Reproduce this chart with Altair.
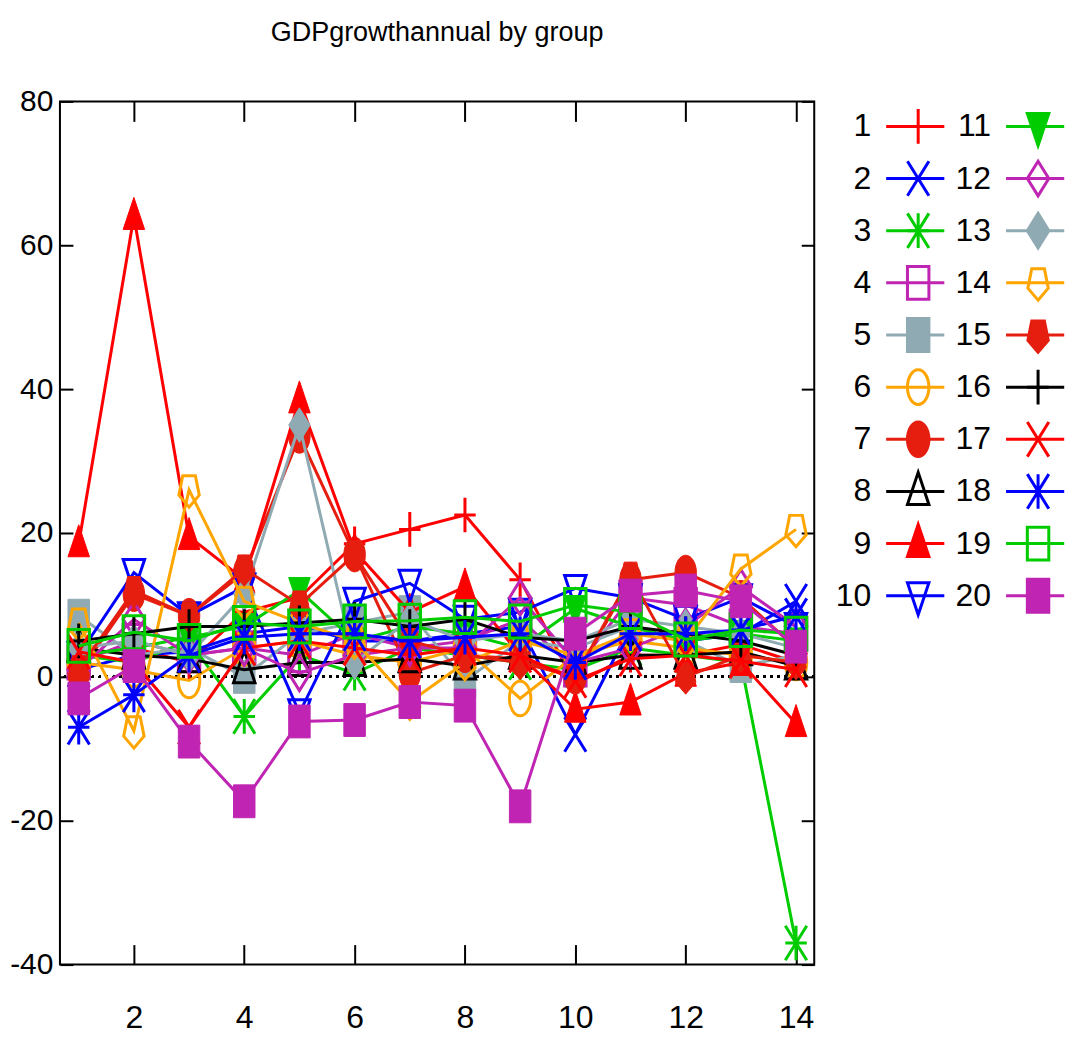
import altair as alt
import pandas as pd

# ---------------- data ----------------
x_vals = list(range(1, 15))
series_names = [str(i) for i in range(1, 21)]

s1 = [3, 4, 2, 9, 11, 18.5, 20.5, 22.5, 13.5, -1, 3, 3, 4.5, 2]
s2 = [1, 3, 3.5, 6, 7, 5, 5, 6, 7, -8, 7, 5, 6, 10.5]
s3 = [3, 2, 5, -5.5, 3, 0.5, 4, 3, 2, 1, 4, 3, 2, -37]
s4 = [2, 5, 3, 4, 3, 6, 4, 5, 8, 1, 11, 10, 7, 6]
s5 = [8.5, 3, 4, 0, 6, 7.5, 9, -0.5, 5, 4, 7, 5, 1.5, 3]
s6 = [2, 1, -0.5, 4, 5, 3, 2, 4, -3, 3, 5, 4, 3, 2]
s7 = [0.5, 11.5, 8.5, 14.5, 33.5, 17, 0.5, 3, 2.5, 0, 13.5, 14.5, 11, 4]
s8 = [4, 3, 2.5, 1, 2, 2, 2.5, 1.5, 3, 2, 3, 3, 3.5, 1.5]
s9 = [18.5, 64, 19.5, 13.5, 38.5, 17.5, 9, 12.5, 3, -4.5, -3.5, 0.5, 2, -6.5]
s10 = [3, 14.5, 8.5, 12.5, -5, 10.5, 13, 8, 9, 12.3, 11, 8, 11, 7]
s11 = [3, 4, 5.5, 7, 12, 5, 7, 6, 4, 9.5, 7, 5, 6, 5]
s12 = [1, 8, 3, 4, 0.5, 3, 4, 4, 11, 2, 4, 7, 12.5, 7]
s13 = [4, 5, 3, 11.5, 35, 2, 8, 5, 6, 5, 8, 7, 6, 4]
s14 = [7.5, -7.5, 26, 10.5, 7.5, 5, -3.5, 2, 5, 3, 6, 5, 15, 20.5]
s15 = [1, 12, 8.5, 15, 10, 17, 5, 3, 2, 0, 14, 0, 3, 2]
s16 = [5, 6, 7, 7, 7.5, 8, 7, 8, 5.5, 5, 7, 6, 5, 3]
s17 = [3.5, 2, -7, 4, 5, 4, 3, 4, 3, -0.5, 2.5, 3, 2.2, 1]
s18 = [-7, -2.5, 3, 5.5, 6, 6, 5, 5.5, 6, 2, 6, 6, 6.5, 8.5]
s19 = [4.3, 6.2, 5, 7.5, 7, 7.7, 7.8, 8.3, 7.7, 10, 9, 5.2, 6.5, 6]
s20 = [-3, 1.5, -9, -17.3, -6.2, -6, -3.5, -4, -18, 6, 11.3, 12, 10.5, 4.2]

values = [s1, s2, s3, s4, s5, s6, s7, s8, s9, s10,
          s11, s12, s13, s14, s15, s16, s17, s18, s19, s20]

RED, BLUE, GREEN, PURPLE, GRAY, ORANGE, RED2, BLACK = (
    "#ff0000", "#0000ff", "#00cc00", "#bf25b2", "#8faab3", "#ffa500", "#e51e10", "#000000")
colors = [RED, BLUE, GREEN, PURPLE, GRAY, ORANGE, RED2, BLACK,
          RED, BLUE, GREEN, PURPLE, GRAY, ORANGE, RED2, BLACK,
          RED, BLUE, GREEN, PURPLE]

# marker shapes (slightly taller than wide)
a = 0.62
P_PLUS = f"M{-a},0H{a}M0,-1V1"
P_CROSS = f"M{-a},-1L{a},1M{-a},1L{a},-1"
P_STAR = f"M{-a},0H{a}M0,-1V1M{-a},-1L{a},1M{-a},1L{a},-1"
P_SQUARE = f"M{-a},-0.95H{a}V0.95H{-a}Z"
P_CIRCLE = f"M{-a},0A{a},1 0 1,1 {a},0A{a},1 0 1,1 {-a},0Z"
P_TRI_UP = f"M0,-1.1L{a},0.75L{-a},0.75Z"
P_TRI_DN = f"M0,1.1L{a},-0.75L{-a},-0.75Z"
P_DIAM = f"M0,-1L{a},0L0,1L{-a},0Z"
P_PENT = "M0,1L-0.59,0.31L-0.365,-0.81L0.365,-0.81L0.59,0.31Z"

shapes = [P_PLUS, P_CROSS, P_STAR, P_SQUARE, P_SQUARE, P_CIRCLE, P_CIRCLE,
          P_TRI_UP, P_TRI_UP, P_TRI_DN, P_TRI_DN, P_DIAM, P_DIAM, P_PENT, P_PENT,
          P_PLUS, P_CROSS, P_STAR, P_SQUARE, P_SQUARE]
filled = [False, False, False, False, True, False, True, False, True, False,
          True, False, True, False, True, False, False, False, False, True]

x_ticks = [2, 4, 6, 8, 10, 12, 14]
y_ticks = [-40, -20, 0, 20, 40, 60, 80]

FONT = "Liberation Sans"
SIZE = 1200
SW = 3

PLOT_W, PLOT_H = 755, 864

rows = []
for name, vals in zip(series_names, values):
    for x, v in zip(x_vals, vals):
        rows.append({"group": name, "x": x, "y": v})
df = pd.DataFrame(rows)

xscale = alt.Scale(domain=[0.66, 14.33], nice=False, zero=False)
yscale = alt.Scale(domain=[-40, 80], nice=False, zero=False)

axis_common = dict(domain=False, grid=False, title=None, tickColor="black",
                   tickWidth=2, labelFont=FONT, labelColor="black",
                   labelExpr="toString(datum.value)")

ax_bl = alt.Chart(df).mark_point(opacity=0).encode(
    x=alt.X("x:Q", scale=xscale, axis=alt.Axis(orient="bottom", values=x_ticks, tickSize=20,
                                               offset=-20, labelPadding=38, labelFontSize=32,
                                               **axis_common)),
    y=alt.Y("y:Q", scale=yscale, axis=alt.Axis(orient="left", values=y_ticks, tickSize=13,
                                               offset=-13, labelPadding=7, labelFontSize=30,
                                               **axis_common)),
)
ax_tr = alt.Chart(df).mark_point(opacity=0).encode(
    x=alt.X("x:Q", scale=xscale, axis=alt.Axis(orient="top", values=x_ticks, tickSize=20,
                                               offset=-20, labels=False, **axis_common)),
    y=alt.Y("y:Q", scale=yscale, axis=alt.Axis(orient="right", values=y_ticks, tickSize=13,
                                               offset=-13, labels=False, **axis_common)),
)
zero = alt.Chart(df).mark_rule(color="black", strokeWidth=2, strokeDash=[2, 5]).encode(
    y=alt.YDatum(0, scale=yscale, axis=None)
)

layers = [ax_bl, ax_tr, zero]
for i, name in enumerate(series_names):
    base = alt.Chart(df).transform_filter(alt.datum.group == name)
    enc = dict(x=alt.X("x:Q", scale=xscale, axis=None), y=alt.Y("y:Q", scale=yscale, axis=None))
    line = base.mark_line(color=colors[i], strokeWidth=SW).encode(**enc)
    if filled[i]:
        pt = base.mark_point(shape=shapes[i], size=SIZE, filled=True, fill=colors[i],
                             stroke=colors[i], strokeWidth=1, opacity=1, fillOpacity=1).encode(**enc)
    else:
        pt = base.mark_point(shape=shapes[i], size=SIZE, filled=False, color=colors[i],
                             strokeWidth=SW, opacity=1).encode(**enc)
    layers += [line, pt]

main = alt.layer(*layers).resolve_axis(x="independent", y="independent").properties(
    width=PLOT_W, height=PLOT_H,
    title=alt.TitleParams("GDPgrowthannual by group", font=FONT, fontSize=27,
                          fontWeight="normal", color="black", anchor="middle", offset=39),
    view=alt.ViewBackground(stroke="black", strokeWidth=2),
)

# ---------------- legend ----------------
leg = pd.DataFrame({
    "group": series_names,
    "row": [i % 10 for i in range(20)],
    "col": [i // 10 for i in range(20)],
    "color": colors,
    "shape": shapes,
    "fill": [c if f else "transparent" for c, f in zip(colors, filled)],
})
leg["tx"] = leg["col"] + 0.35
leg["x0"] = leg["col"] + 0.475
leg["x1"] = leg["col"] + 0.96
leg["mx"] = leg["col"] + 0.742

LEG_W = 232
lx = alt.Scale(domain=[0, LEG_W / 120], nice=False, zero=False)
ly = alt.Scale(domain=[-0.479, -0.479 + PLOT_H / 52.2], nice=False, zero=False, reverse=True)

leg_text = alt.Chart(leg).mark_text(align="right", baseline="middle", font=FONT,
                                    fontSize=32, color="black").encode(
    x=alt.X("tx:Q", scale=lx, axis=None), y=alt.Y("row:Q", scale=ly, axis=None), text="group:N")
leg_line = alt.Chart(leg).mark_rule(strokeWidth=SW).encode(
    x=alt.X("x0:Q", scale=lx, axis=None), x2="x1:Q", y=alt.Y("row:Q", scale=ly, axis=None),
    color=alt.Color("color:N", scale=None))
leg_pt = alt.Chart(leg).mark_point(size=SIZE, strokeWidth=SW, opacity=1, fillOpacity=1).encode(
    x=alt.X("mx:Q", scale=lx, axis=None), y=alt.Y("row:Q", scale=ly, axis=None),
    shape=alt.Shape("shape:N", scale=None), fill=alt.Fill("fill:N", scale=None),
    stroke=alt.Stroke("color:N", scale=None))

legend = alt.layer(leg_line, leg_pt, leg_text).properties(
    width=LEG_W, height=PLOT_H, view=alt.ViewBackground(stroke="transparent"))

chart = alt.hconcat(main, legend, spacing=12).configure_view(strokeWidth=2).properties(
    background="white",
    padding={"left": 0, "top": 10, "right": 0, "bottom": 0},
)

chart.save("out.html", embed_options={"renderer": "svg", "actions": False})
